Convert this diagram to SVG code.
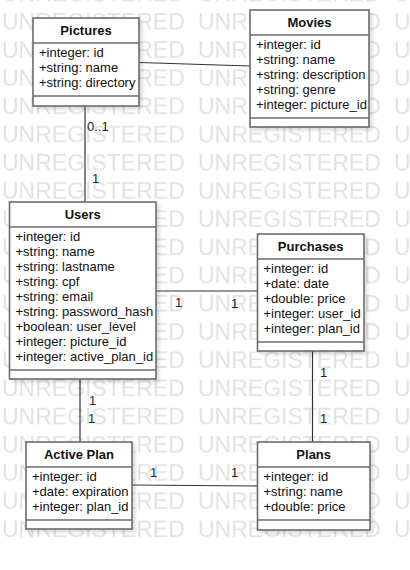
<svg xmlns="http://www.w3.org/2000/svg" width="410" height="570" viewBox="0 0 410 570">
<style>
.box{fill:#fff;stroke:#6b6b6b;stroke-width:1.6;}
.div{stroke:#6b6b6b;stroke-width:1.6;fill:none;}
.title{font-family:"Liberation Sans",Arial,sans-serif;font-size:13px;font-weight:bold;fill:#111;text-anchor:middle;}
.attr{font-family:"Liberation Sans",Arial,sans-serif;font-size:13px;fill:#111;}
.lbl{font-family:"Liberation Sans",Arial,sans-serif;font-size:13px;fill:#222;}
.edge{stroke:#333;stroke-width:1.2;fill:none;}
.wm{font-family:"Liberation Sans",Arial,sans-serif;font-size:23px;fill:#e2e2e2;}
</style>
<defs>
<pattern id="wmp" patternUnits="userSpaceOnUse" x="2" y="13" width="196" height="28.2">
<text class="wm" x="0" y="16.5">UNREGISTERED</text>
</pattern>
<filter id="sh" x="-10%" y="-10%" width="130%" height="130%">
<feDropShadow dx="3" dy="3" stdDeviation="1.8" flood-color="#000" flood-opacity="0.12"/>
</filter>
</defs>
<rect x="0" y="0" width="410" height="570" fill="#fff"/>
<rect x="0" y="0" width="410" height="540" fill="url(#wmp)"/>

<g id="connectors">
<line class="edge" x1="139" y1="62.5" x2="250" y2="66"/>
<line class="edge" x1="85" y1="106" x2="85" y2="202"/>
<text class="lbl" x="87" y="131">0..1</text>
<text class="lbl" x="92" y="183">1</text>
<line class="edge" x1="156" y1="291" x2="257.5" y2="291"/>
<text class="lbl" x="175" y="307">1</text>
<text class="lbl" x="231" y="308">1</text>
<line class="edge" x1="312.5" y1="351" x2="312.5" y2="442"/>
<text class="lbl" x="320" y="377">1</text>
<text class="lbl" x="320" y="423">1</text>
<line class="edge" x1="80" y1="379" x2="80" y2="442"/>
<text class="lbl" x="89" y="405">1</text>
<text class="lbl" x="88" y="423">1</text>
<line class="edge" x1="132" y1="485" x2="257.5" y2="486"/>
<text class="lbl" x="150" y="477">1</text>
<text class="lbl" x="231" y="477">1</text>
</g>

<g id="pictures">
<rect class="box" x="33" y="18" width="106" height="88" filter="url(#sh)"/>
<line class="div" x1="33" y1="43" x2="139" y2="43"/>
<line class="div" x1="33" y1="96" x2="139" y2="96"/>
<text class="title" x="86" y="35">Pictures</text>
<text class="attr" x="39" y="57.3">+integer: id</text>
<text class="attr" x="39" y="72.3">+string: name</text>
<text class="attr" x="39" y="87.3">+string: directory</text>
</g>

<g id="movies">
<rect class="box" x="250" y="10" width="119" height="117" filter="url(#sh)"/>
<line class="div" x1="250" y1="35" x2="369" y2="35"/>
<line class="div" x1="250" y1="118" x2="369" y2="118"/>
<text class="title" x="309.5" y="27">Movies</text>
<text class="attr" x="256" y="49.3">+integer: id</text>
<text class="attr" x="256" y="64.3">+string: name</text>
<text class="attr" x="256" y="79.3">+string: description</text>
<text class="attr" x="256" y="94.3">+string: genre</text>
<text class="attr" x="256" y="109.3">+integer: picture_id</text>
</g>

<g id="users">
<rect class="box" x="9.5" y="202" width="146.5" height="177" filter="url(#sh)"/>
<line class="div" x1="9.5" y1="227" x2="156" y2="227"/>
<line class="div" x1="9.5" y1="370" x2="156" y2="370"/>
<text class="title" x="82.7" y="219">Users</text>
<text class="attr" x="15.5" y="241.3">+integer: id</text>
<text class="attr" x="15.5" y="256.3">+string: name</text>
<text class="attr" x="15.5" y="271.3">+string: lastname</text>
<text class="attr" x="15.5" y="286.3">+string: cpf</text>
<text class="attr" x="15.5" y="301.3">+string: email</text>
<text class="attr" x="15.5" y="316.3">+string: password_hash</text>
<text class="attr" x="15.5" y="331.3">+boolean: user_level</text>
<text class="attr" x="15.5" y="346.3">+integer: picture_id</text>
<text class="attr" x="15.5" y="361.3">+integer: active_plan_id</text>
</g>

<g id="purchases">
<rect class="box" x="257.5" y="234" width="106.5" height="117" filter="url(#sh)"/>
<line class="div" x1="257.5" y1="259" x2="364" y2="259"/>
<line class="div" x1="257.5" y1="342" x2="364" y2="342"/>
<text class="title" x="310.7" y="251">Purchases</text>
<text class="attr" x="263.5" y="273.3">+integer: id</text>
<text class="attr" x="263.5" y="288.3">+date: date</text>
<text class="attr" x="263.5" y="303.3">+double: price</text>
<text class="attr" x="263.5" y="318.3">+integer: user_id</text>
<text class="attr" x="263.5" y="333.3">+integer: plan_id</text>
</g>

<g id="active-plan">
<rect class="box" x="26" y="442" width="106" height="87" filter="url(#sh)"/>
<line class="div" x1="26" y1="467" x2="132" y2="467"/>
<line class="div" x1="26" y1="520" x2="132" y2="520"/>
<text class="title" x="79" y="459">Active Plan</text>
<text class="attr" x="32" y="481.3">+integer: id</text>
<text class="attr" x="32" y="496.3">+date: expiration</text>
<text class="attr" x="32" y="511.3">+integer: plan_id</text>
</g>

<g id="plans">
<rect class="box" x="257.5" y="442" width="112.5" height="88" filter="url(#sh)"/>
<line class="div" x1="257.5" y1="467" x2="370" y2="467"/>
<line class="div" x1="257.5" y1="520" x2="370" y2="520"/>
<text class="title" x="313.7" y="459">Plans</text>
<text class="attr" x="263.5" y="481.3">+integer: id</text>
<text class="attr" x="263.5" y="496.3">+string: name</text>
<text class="attr" x="263.5" y="511.3">+double: price</text>
</g>
</svg>
